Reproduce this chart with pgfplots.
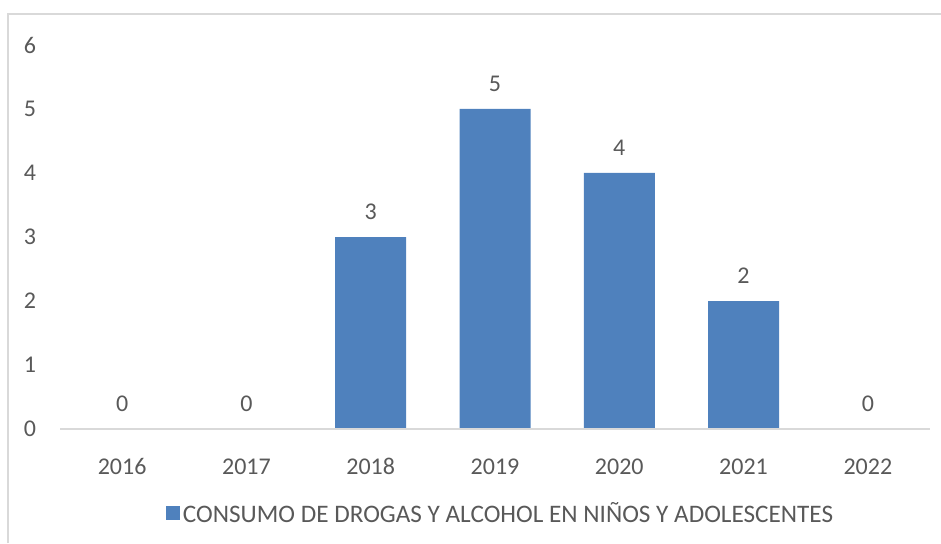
\documentclass[border=0pt]{standalone}
\usepackage{fontspec}
\setmainfont{Carlito}
\usepackage{pgfplots}
\pgfplotsset{compat=1.18}
\definecolor{barblue}{HTML}{4F81BD}
\definecolor{txt}{HTML}{595959}
\definecolor{frame}{HTML}{D9D9D9}
\begin{document}
\begin{tikzpicture}[x=0.75pt,y=0.75pt]
\useasboundingbox (0,0) rectangle (941,543);
\draw[frame,line width=1.2pt] (8,0) -- (8,529) -- (941,529);
\begin{axis}[
  at={(45pt,85.5pt)}, anchor=south west,
  scale only axis, width=652.5pt, height=288pt,
  xmin=-0.5, xmax=6.5, ymin=0, ymax=6,
  ybar, bar width=53.25pt, bar shift=0pt,
  xtick={0,...,6},
  xticklabels={2016,2017,2018,2019,2020,2021,2022},
  ytick={0,...,6},
  axis line style={draw=none},
  tick style={draw=none},
  font=\fontsize{18}{21}\selectfont,
  tick label style={text=txt},
  /pgf/number format/assume math mode=true,
  yticklabel style={anchor=center, xshift=-22.5pt},
  xticklabel style={anchor=center, yshift=-24pt},
  nodes near coords,
  every node near coord/.append style={text=txt, anchor=center, yshift=19pt},
  legend style={at={(0.507,-0.219)}, anchor=center, draw=none, text=txt,
    font=\fontsize{18.9}{22}\selectfont},
  legend image code/.code={\fill[barblue] (0pt,-5.25pt) rectangle (10.5pt,5.25pt);},
]
\addplot[fill=barblue, draw=none] coordinates {(0,0) (1,0) (2,3) (3,5) (4,4) (5,2) (6,0)};
\addlegendentry{CONSUMO DE DROGAS Y ALCOHOL EN NIÑOS Y ADOLESCENTES}
\draw[frame, line width=1.2pt] (axis cs:-0.5,0) -- (axis cs:6.5,0);
\end{axis}
\end{tikzpicture}
\end{document}
